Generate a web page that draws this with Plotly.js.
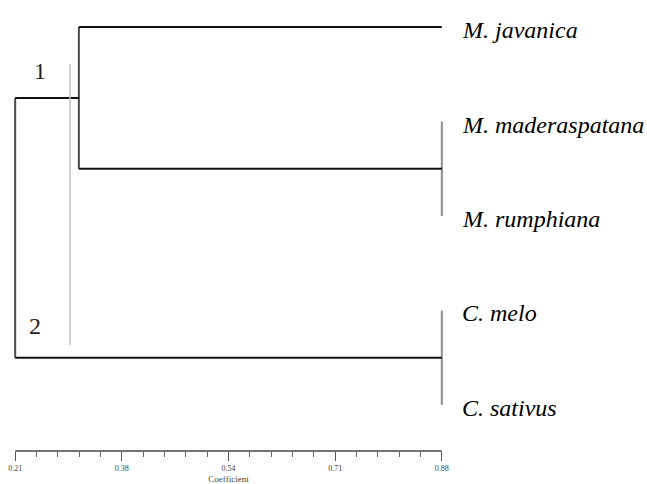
<!DOCTYPE html>
<html>
<head>
<meta charset="utf-8">
<script src="https://cdn.plot.ly/plotly-3.0.1.min.js"></script>
<style>html,body{margin:0;padding:0;background:#fff;}#chart{width:647px;height:484px;}</style>
</head>
<body>
<div id="chart"></div>
<script>
// Leaves, top to bottom
const leaves = ['M. javanica', 'M. maderaspatana', 'M. rumphiana', 'C. melo', 'C. sativus'];
// Merges: [childA, childB, coefficient]; indices >= leaves.length refer to earlier merges
const mergeA = [1, 0, 3, 6];
const mergeB = [2, 5, 4, 7];
const mergeCoef = [0.88, 0.31, 0.88, 0.21];
// Cluster labels and phenon (cut-off) line
const clusterNames = ['1', '2'];
const cutoff = 0.296;
// Axis ticks
const tickVals = [0.21, 0.3775, 0.545, 0.7125, 0.88];
const tickText = ['0.21', '0.38', '0.54', '0.71', '0.88'];
const tipCoef = 0.88;

const n = leaves.length;
const nodeX = [], nodeY = [];
leaves.forEach((l, i) => { nodeX.push(tipCoef); nodeY.push(n - 1 - i); });

const hx = [], hy = [];
const traces = [];
for (let k = 0; k < mergeA.length; k++) {
  const a = mergeA[k], b = mergeB[k], h = mergeCoef[k];
  const y = (nodeY[a] + nodeY[b]) / 2;
  [a, b].forEach(c => {
    if (nodeX[c] !== h) { hx.push(nodeX[c], h, null); hy.push(nodeY[c], nodeY[c], null); }
  });
  traces.push({
    x: [h, h], y: [nodeY[a], nodeY[b]], mode: 'lines', type: 'scatter', hoverinfo: 'skip',
    line: {color: h === tipCoef ? '#8c8c8c' : '#4a4a4a', width: 2}
  });
  nodeX.push(h); nodeY.push(y);
}
traces.push({x: hx, y: hy, mode: 'lines', type: 'scatter', hoverinfo: 'skip',
  line: {color: '#111', width: 2}});
// phenon line
traces.push({x: [cutoff, cutoff], y: [3.61, 0.635], mode: 'lines', type: 'scatter', hoverinfo: 'skip',
  line: {color: '#bdbdbd', width: 1.5}});

const annotations = leaves.map((l, i) => ({
  x: tipCoef, y: n - 1 - i, xref: 'x', yref: 'y', xanchor: 'left', yanchor: 'middle',
  xshift: 18, yshift: -3, text: '<i>' + l + '</i>', showarrow: false,
  font: {family: 'Liberation Serif, Times New Roman, serif', size: 24, color: '#000'}
}));
annotations.push({x: 0.249, y: 3.53, xref: 'x', yref: 'y', text: clusterNames[0], showarrow: false,
  font: {family: 'Liberation Serif, serif', size: 24, color: '#222'}});
annotations.push({x: 0.241, y: 0.836, xref: 'x', yref: 'y', text: clusterNames[1], showarrow: false,
  font: {family: 'Liberation Serif, serif', size: 24, color: '#222'}});

const layout = {
  width: 647, height: 484,
  margin: {l: 12, r: 202, t: 0, b: 33},
  paper_bgcolor: '#fff', plot_bgcolor: '#fff',
  showlegend: false,
  xaxis: {
    range: [0.205, 0.885], showgrid: false, zeroline: false, showline: false,
    tickmode: 'array', tickvals: tickVals, ticktext: tickText,
    ticks: 'outside', ticklen: 9, tickwidth: 1, tickcolor: '#555',
    tickfont: {family: 'Liberation Serif, serif', size: 8, color: '#444'},
    minor: {tickmode: 'linear', tick0: 0.21, dtick: 0.0335, ticks: 'outside', ticklen: 5, tickwidth: 1, tickcolor: '#666', showgrid: false},
    title: {text: 'Coefficient', standoff: 8, font: {family: 'Liberation Serif, serif', size: 9, color: '#444'}}
  },
  yaxis: {range: [-0.487, 4.286], visible: false, showgrid: false, zeroline: false},
  shapes: [{type: 'line', xref: 'x', yref: 'paper', x0: 0.21, x1: 0.88, y0: 0, y1: 0,
    line: {color: '#444', width: 1.5}}],
  annotations: annotations
};

Plotly.newPlot('chart', traces, layout, {displayModeBar: false, staticPlot: true});
</script>
</body>
</html>
